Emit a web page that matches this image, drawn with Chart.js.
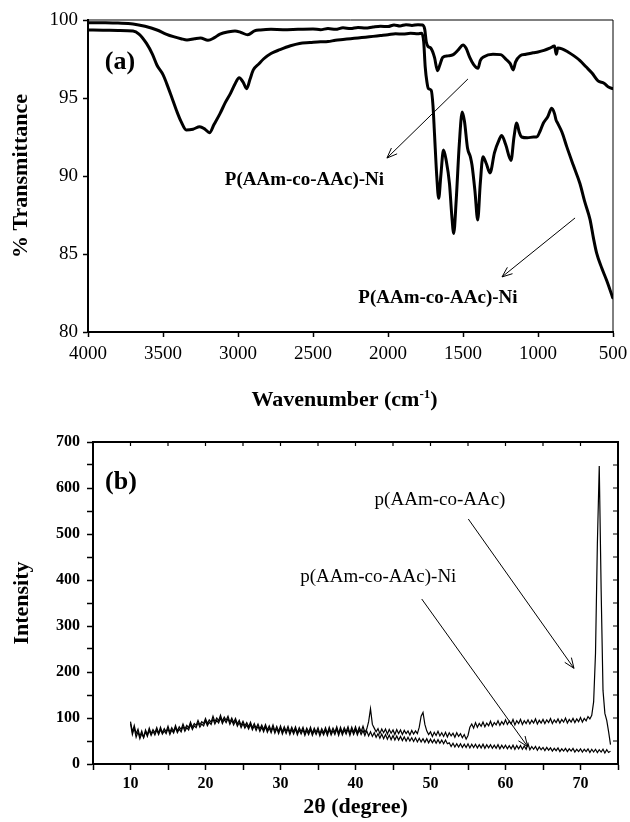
<!DOCTYPE html>
<html>
<head>
<meta charset="utf-8">
<script src="https://cdn.jsdelivr.net/npm/chart.js@4.4.1/dist/chart.umd.min.js"></script>
<style>
  html, body { margin: 0; padding: 0; background: #fff; }
  #wrap { position: relative; width: 630px; height: 822px; background: #fff; }
  canvas { position: absolute; left: 0; }
  #ftir { top: 0; }
  #xrd { top: 420px; }
</style>
</head>
<body>
<div id="wrap">
  <canvas id="ftir" width="630" height="420"></canvas>
  <canvas id="xrd" width="630" height="402"></canvas>
</div>
<script>
// ---- panel (a): FTIR spectra ----
// upper trace
const ftirWaveA = [4000, 3900, 3800, 3700, 3620, 3540, 3480, 3430, 3380, 3340, 3290, 3250, 3200, 3160, 3120,
  3060, 3020, 2980, 2935, 2890, 2850, 2780, 2700, 2600, 2500, 2450, 2400, 2350, 2300, 2250, 2200, 2150,
  2100, 2050, 2000, 1960, 1920, 1880, 1840, 1800, 1770, 1755, 1745, 1733, 1715, 1690, 1670, 1655, 1635,
  1600, 1565, 1530, 1500, 1480, 1455, 1430, 1400, 1385, 1360, 1300, 1250, 1210, 1185, 1165, 1150, 1120,
  1080, 1033, 1000, 960, 920, 890, 878, 868, 840, 800, 760, 720, 680, 640, 600, 560, 530, 500]
const ftirTransA = [99.83, 99.82, 99.8, 99.75, 99.6, 99.36, 99.1, 98.93, 98.8, 98.72, 98.8, 98.85, 98.7, 98.85, 99.1,
  99.25, 99.3, 99.2, 99.05, 99.3, 99.36, 99.4, 99.38, 99.4, 99.42, 99.38, 99.45, 99.4, 99.5, 99.45, 99.52, 99.48,
  99.55, 99.6, 99.58, 99.68, 99.62, 99.7, 99.65, 99.7, 99.68, 99.4, 98.6, 98.3, 98.2, 97.6, 96.75, 97.1, 97.6,
  97.7, 97.78, 98.1, 98.4, 98.2, 97.6, 97.15, 96.9, 97.4, 97.65, 97.8, 97.78, 97.45, 97.2, 96.8, 97.3, 97.7,
  97.8, 97.9, 97.95, 98.05, 98.2, 98.33, 97.8, 98.2, 98.15, 97.95, 97.7, 97.4, 97.0, 96.6, 96.1, 95.95, 95.7, 95.6]

// lower trace
const ftirWaveB = [4000, 3900, 3800, 3700, 3660, 3610, 3570, 3540, 3500, 3476, 3440, 3410, 3380, 3345, 3300,
  3255, 3220, 3190, 3160, 3120, 3085, 3050, 3020, 2992, 2965, 2942, 2920, 2898, 2860, 2830, 2780, 2720,
  2650, 2590, 2520, 2450, 2400, 2350, 2300, 2250, 2200, 2150, 2100, 2050, 2000, 1950, 1900, 1850, 1800,
  1776, 1762, 1752, 1740, 1730, 1712, 1700, 1690, 1675, 1662, 1648, 1630, 1612, 1590, 1575, 1562, 1545,
  1525, 1505, 1490, 1470, 1450, 1440, 1420, 1402, 1385, 1367, 1345, 1320, 1290, 1260, 1242, 1215, 1180,
  1160, 1142, 1125, 1109, 1070, 1030, 1009, 985, 964, 935, 909, 890, 880, 870, 840, 809, 765, 720, 690,
  653, 630, 609, 575, 542, 520, 502]
const ftirTransB = [99.36, 99.35, 99.33, 99.3, 99.1, 98.5, 97.8, 97.1, 96.5, 95.94, 95.0, 94.2, 93.5, 92.95, 93.0,
  93.16, 93.0, 92.78, 93.3, 94.0, 94.7, 95.3, 95.9, 96.3, 96.0, 95.6, 96.2, 96.8, 97.2, 97.5, 97.85, 98.1,
  98.35, 98.5, 98.55, 98.6, 98.62, 98.7, 98.75, 98.8, 98.85, 98.9, 98.95, 99.0, 99.05, 99.12, 99.1, 99.15, 99.12,
  99.15, 98.6, 97.0, 96.0, 95.6, 95.5, 94.5, 92.7, 90.0, 88.57, 90.0, 91.67, 91.0, 89.5, 87.5, 86.32, 88.5,
  92.0, 94.1, 93.5, 91.8, 91.2, 90.7, 89.0, 87.18, 89.5, 91.24, 90.8, 90.2, 91.5, 92.3, 92.6, 92.0, 91.0,
  92.5, 93.4, 92.8, 92.5, 92.45, 92.5, 92.5, 92.9, 93.4, 93.8, 94.34, 94.0, 93.6, 93.4, 92.8, 91.9, 90.7, 89.5, 88.4,
  87.2, 86.0, 85.05, 84.1, 83.3, 82.7, 82.2]

const ftirTicksX = [4000, 3500, 3000, 2500, 2000, 1500, 1000, 500]
const ftirTicksY = [80, 85, 90, 95, 100]

// ---- panel (b): XRD patterns, scan from 10 deg in 0.25 deg steps ----
const xrdThetaStart = 10
const xrdThetaStep = 0.25
const xrdIntensityA = [
  92, 70, 84, 66, 76, 60, 72, 58,
  74, 64, 78, 66, 75, 68, 79, 67,
  80, 68, 77, 70, 82, 69, 79, 71,
  84, 72, 81, 75, 87, 76, 84, 79,
  91, 80, 88, 84, 95, 85, 92, 88,
  99, 88, 96, 91, 104, 92, 100, 94,
  106, 93, 102, 95, 104, 91, 100, 90,
  99, 87, 95, 84, 93, 83, 90, 81,
  91, 79, 88, 78, 87, 76, 85, 75,
  86, 74, 83, 73, 85, 72, 82, 71,
  83, 70, 81, 71, 82, 69, 80, 70,
  81, 68, 79, 70, 80, 67, 78, 69,
  80, 67, 78, 69, 79, 66, 77, 68,
  79, 67, 80, 68, 78, 69, 81, 67,
  80, 68, 79, 70, 81, 67, 80, 69,
  81, 68, 80, 70, 82, 69, 76, 92,
  120, 86, 78, 70, 77, 66, 76, 68,
  76, 65, 75, 67, 74, 64, 75, 66,
  74, 64, 73, 66, 72, 63, 73, 65,
  72, 66, 80, 104, 112, 86, 72, 64,
  70, 60, 69, 62, 71, 61, 68, 60,
  69, 59, 68, 61, 67, 58, 68, 60,
  66, 57, 64, 54, 62, 80, 87, 78,
  90, 80, 88, 82, 91, 81, 89, 83,
  93, 82, 90, 85, 94, 84, 92, 86,
  96, 86, 93, 87, 97, 85, 94, 88,
  97, 86, 94, 88, 96, 87, 95, 89,
  98, 87, 95, 89, 97, 88, 96, 90,
  99, 88, 96, 90, 98, 89, 97, 91,
  100, 89, 97, 91, 99, 90, 98, 92,
  101, 91, 99, 94, 103, 98, 106, 135,
  240, 480, 648, 380, 160, 110, 95, 70,
  42
]
const xrdIntensityB = [
  88, 64, 78, 58, 70, 55, 66, 57,
  70, 60, 73, 62, 71, 63, 74, 64,
  75, 65, 72, 66, 77, 64, 74, 67,
  79, 68, 76, 70, 82, 71, 79, 74,
  86, 75, 83, 79, 90, 80, 87, 83,
  94, 83, 91, 86, 98, 87, 95, 89,
  100, 88, 97, 90, 99, 86, 95, 85,
  94, 82, 90, 79, 88, 78, 85, 76,
  86, 74, 83, 73, 82, 71, 80, 70,
  81, 69, 78, 68, 80, 67, 77, 66,
  78, 65, 76, 66, 77, 64, 75, 65,
  76, 63, 74, 65, 75, 62, 73, 64,
  75, 62, 73, 64, 74, 61, 72, 63,
  74, 62, 75, 63, 73, 64, 76, 62,
  75, 63, 74, 65, 76, 62, 75, 64,
  75, 63, 74, 64, 73, 62, 72, 61,
  70, 60, 68, 58, 66, 56, 65, 55,
  64, 54, 63, 53, 62, 52, 61, 52,
  60, 51, 59, 50, 58, 50, 57, 49,
  57, 48, 56, 48, 55, 47, 55, 46,
  54, 46, 53, 45, 53, 45, 52, 44,
  52, 44, 46, 38, 45, 37, 44, 37,
  44, 36, 43, 36, 44, 35, 43, 36,
  43, 35, 42, 35, 43, 34, 42, 35,
  42, 34, 41, 34, 42, 33, 41, 34,
  41, 33, 40, 33, 41, 32, 40, 33,
  40, 32, 39, 32, 44, 31, 38, 32,
  38, 30, 37, 31, 36, 29, 36, 30,
  35, 28, 34, 29, 35, 27, 33, 28,
  34, 27, 33, 28, 34, 26, 32, 27,
  33, 26, 32, 27, 33, 25, 32, 26,
  32, 25, 31, 26, 32, 24, 31, 25,
  28
]
const xrdTheta = xrdIntensityA.map((_, i) => xrdThetaStart + i * xrdThetaStep)

// annotations, in data units of each panel
const ftirLabels = [
  { text: "(a)", x: 3787, y: 97.3, font: "bold 26px 'Liberation Serif', serif" },
  { text: "P(AAm-co-AAc)-Ni", x: 2557, y: 89.74, font: "bold 19px 'Liberation Serif', serif" },
  { text: "P(AAm-co-AAc)-Ni", x: 1667, y: 82.18, font: "bold 19px 'Liberation Serif', serif" }
]
const ftirArrows = [
  { from: [1467, 96.22], to: [2007, 91.15] },
  { from: [753, 87.31], to: [1240, 83.53] }
]
const xrdLabels = [
  { text: "(b)", x: 8.73, y: 613, font: "bold 26px 'Liberation Serif', serif" },
  { text: "p(AAm-co-AAc)", x: 51.27, y: 574, font: "19px 'Liberation Serif', serif" },
  { text: "p(AAm-co-AAc)-Ni", x: 43.04, y: 407, font: "19px 'Liberation Serif', serif" }
]
const xrdArrows = [
  { from: [55.04, 532.6], to: [69.13, 208] },
  { from: [48.83, 358.7], to: [62.96, 37.6] }
]

const serif = "'Liberation Serif', 'Times New Roman', serif"
Chart.defaults.font.family = serif
Chart.defaults.color = "#000"

const toPoints = (xs, ys) => xs.map((x, i) => ({ x: x, y: ys[i] }))

// lock axis boxes so the plot areas land where the reference has them
const fixWidth = (w) => (scale) => { scale.width = w; scale.paddingTop = 0; scale.paddingBottom = 0 }
const fixHeight = (h) => (scale) => { scale.height = h; scale.paddingLeft = 0; scale.paddingRight = 0 }

function drawArrow(ctx, x1, y1, x2, y2) {
  const ang = Math.atan2(y2 - y1, x2 - x1)
  const head = 11
  ctx.beginPath()
  ctx.moveTo(x1, y1)
  ctx.lineTo(x2, y2)
  ctx.moveTo(x2 - head * Math.cos(ang - 0.38), y2 - head * Math.sin(ang - 0.38))
  ctx.lineTo(x2, y2)
  ctx.lineTo(x2 - head * Math.cos(ang + 0.38), y2 - head * Math.sin(ang + 0.38))
  ctx.stroke()
}

function notesPlugin(labels, arrows) {
  return {
    id: "notes",
    afterDatasetsDraw(chart) {
      const { ctx, scales: { x, y } } = chart
      ctx.save()
      ctx.fillStyle = "#000"
      ctx.strokeStyle = "#000"
      ctx.lineWidth = 1
      ctx.textAlign = "center"
      ctx.textBaseline = "middle"
      labels.forEach((l) => {
        ctx.font = l.font
        ctx.fillText(l.text, x.getPixelForValue(l.x), y.getPixelForValue(l.y))
      })
      arrows.forEach((a) => {
        drawArrow(ctx,
          x.getPixelForValue(a.from[0]), y.getPixelForValue(a.from[1]),
          x.getPixelForValue(a.to[0]), y.getPixelForValue(a.to[1]))
      })
      ctx.restore()
    }
  }
}

// x-axis title of panel (a) with a real superscript "-1"
const wavenumberTitle = {
  id: "wavenumberTitle",
  afterDraw(chart) {
    const { ctx, chartArea: a } = chart
    const big = "bold 22px " + serif
    const small = "bold 13px " + serif
    ctx.save()
    ctx.fillStyle = "#000"
    ctx.textBaseline = "alphabetic"
    ctx.font = big
    const w1 = ctx.measureText("Wavenumber (cm").width
    const w3 = ctx.measureText(")").width
    ctx.font = small
    const w2 = ctx.measureText("-1").width
    let x = (a.left + a.right) / 2 - 6 - (w1 + w2 + w3) / 2
    const base = a.bottom + 74
    ctx.font = big
    ctx.fillText("Wavenumber (cm", x, base)
    x += w1
    ctx.font = small
    ctx.fillText("-1", x, base - 8)
    x += w2
    ctx.font = big
    ctx.fillText(")", x, base)
    ctx.restore()
  }
}

// top and right edges of the plot box, optionally with inward ticks
function framePlugin(width, inwardTicks) {
  return {
    id: "frame",
    afterDraw(chart) {
      const { ctx, chartArea: a, scales: { x, y } } = chart
      ctx.save()
      ctx.strokeStyle = "#000"
      ctx.lineWidth = width
      ctx.beginPath()
      ctx.moveTo(a.left, a.top)
      ctx.lineTo(a.right, a.top)
      ctx.lineTo(a.right, a.bottom)
      ctx.stroke()
      if (inwardTicks) {
        ctx.lineWidth = 1.2
        ctx.beginPath()
        x.ticks.forEach((t) => {
          const px = x.getPixelForValue(t.value)
          ctx.moveTo(px, a.top)
          ctx.lineTo(px, a.top + 4)
        })
        y.ticks.forEach((t) => {
          const py = y.getPixelForValue(t.value)
          ctx.moveTo(a.right, py)
          ctx.lineTo(a.right - 5, py)
        })
        ctx.stroke()
      }
      ctx.restore()
    }
  }
}

new Chart(document.getElementById("ftir"), {
  type: "line",
  data: {
    datasets: [
      { data: toPoints(ftirWaveA, ftirTransA), borderColor: "#000", borderWidth: 3 },
      { data: toPoints(ftirWaveB, ftirTransB), borderColor: "#000", borderWidth: 3 }
    ]
  },
  options: {
    responsive: false,
    animation: false,
    devicePixelRatio: 1,
    layout: { padding: { top: 20, right: 17, bottom: 0, left: 0 } },
    elements: {
      point: { radius: 0 },
      line: { cubicInterpolationMode: "monotone", borderJoinStyle: "round", borderCapStyle: "round" }
    },
    plugins: { legend: { display: false }, tooltip: { enabled: false } },
    scales: {
      x: {
        type: "linear",
        reverse: true,
        min: 500,
        max: 4000,
        afterBuildTicks: (scale) => { scale.ticks = ftirTicksX.map((v) => ({ value: v })) },
        ticks: { color: "#000", font: { size: 19 }, padding: 6, maxRotation: 0, autoSkip: false,
          callback: (v) => String(v) },
        grid: { drawOnChartArea: false, color: "#000", tickLength: 5, tickWidth: 1.5 },
        border: { color: "#000", width: 2 },
        title: { display: false },
        afterFit: fixHeight(88)
      },
      y: {
        min: 80,
        max: 100,
        afterBuildTicks: (scale) => { scale.ticks = ftirTicksY.map((v) => ({ value: v })) },
        ticks: { color: "#000", font: { size: 19 }, padding: 5, callback: (v) => String(v) },
        grid: { drawOnChartArea: false, color: "#000", tickLength: 5, tickWidth: 1.5 },
        border: { color: "#000", width: 2 },
        title: { display: true, text: "% Transmittance", color: "#000",
          font: { size: 22, weight: "bold" }, padding: { top: 8, bottom: 0 } },
        afterFit: fixWidth(88)
      }
    }
  },
  plugins: [notesPlugin(ftirLabels, ftirArrows), framePlugin(1, false), wavenumberTitle]
})

new Chart(document.getElementById("xrd"), {
  type: "line",
  data: {
    datasets: [
      { data: toPoints(xrdTheta, xrdIntensityA), borderColor: "#000", borderWidth: 1.2 },
      { data: toPoints(xrdTheta, xrdIntensityB), borderColor: "#000", borderWidth: 1.2 }
    ]
  },
  options: {
    responsive: false,
    animation: false,
    devicePixelRatio: 1,
    layout: { padding: { top: 22, right: 12, bottom: 0, left: 0 } },
    elements: { point: { radius: 0 }, line: { tension: 0 } },
    plugins: { legend: { display: false }, tooltip: { enabled: false } },
    scales: {
      x: {
        type: "linear",
        min: 5,
        max: 75,
        ticks: { stepSize: 5, color: "#000", font: { size: 16, weight: "bold" }, padding: 4,
          maxRotation: 0, autoSkip: false,
          callback: (v) => (v % 10 === 0 ? String(v) : "") },
        grid: { drawOnChartArea: false, color: "#000", tickLength: 6, tickWidth: 1.5 },
        border: { color: "#000", width: 2 },
        title: { display: true, text: "2\u03B8 (degree)", color: "#000",
          font: { size: 22, weight: "bold" }, padding: { top: 0, bottom: 1 } },
        afterFit: fixHeight(58)
      },
      y: {
        min: 0,
        max: 700,
        ticks: { stepSize: 50, color: "#000", font: { size: 16, weight: "bold" }, padding: 7,
          autoSkip: false,
          callback: (v) => (v % 100 === 0 ? String(v) : "") },
        grid: { drawOnChartArea: false, color: "#000", tickLength: 6, tickWidth: 1.5 },
        border: { color: "#000", width: 2 },
        title: { display: true, text: "Intensity", color: "#000",
          font: { size: 22, weight: "bold" }, padding: { top: 9, bottom: 0 } },
        afterFit: fixWidth(93)
      }
    }
  },
  plugins: [notesPlugin(xrdLabels, xrdArrows), framePlugin(2, true)]
})
</script>
</body>
</html>
